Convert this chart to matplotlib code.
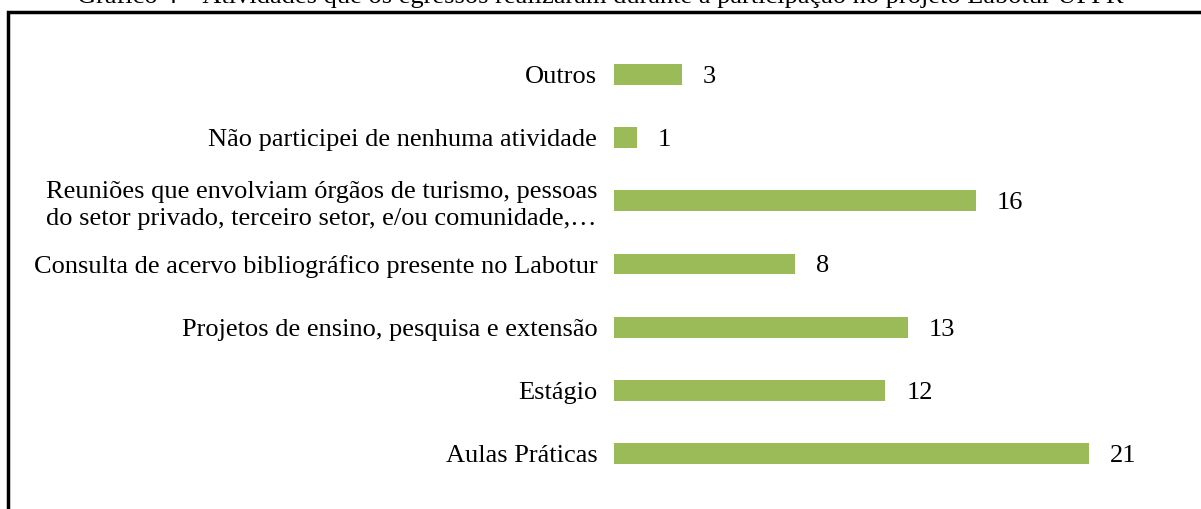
import matplotlib.pyplot as plt
import matplotlib.patches as patches

plt.rcParams['font.family'] = ['Liberation Serif', 'DejaVu Serif']

categorias = [
    "Aulas Práticas",
    "Estágio",
    "Projetos de ensino, pesquisa e extensão",
    "Consulta de acervo bibliográfico presente no Labotur",
    "Reuniões que envolviam órgãos de turismo, pessoas\ndo setor privado, terceiro setor, e/ou comunidade,…",
    "Não participei de nenhuma atividade",
    "Outros",
]
valores = [21, 12, 13, 8, 16, 1, 3]
titulo = "Gráfico 4 – Atividades que os egressos realizaram durante a participação no projeto Labotur UFPR"

verde = '#9BBB59'

fig = plt.figure(figsize=(12.01, 5.09), dpi=100)
ax = fig.add_axes([614 / 1201, 24 / 509, (1150 - 614) / 1201, 442 / 509])

pos = range(len(categorias))
ax.barh(pos, valores, height=0.33, color=verde)
for y, v in zip(pos, valores):
    ax.annotate(str(v), (v, y), xytext=(15, 0), textcoords='offset points',
                ha='left', va='center_baseline', fontsize=19)

ax.set_yticks(list(pos))
ax.set_yticklabels(categorias, fontsize=19, multialignment='center',
                   linespacing=1.3, va='center_baseline')
ax.tick_params(axis='y', length=0, pad=12)
ax.set_xticks([])
ax.set_xlim(0, 536 / 22.62)
ax.set_ylim(-0.5, 6.5)
for s in ax.spines.values():
    s.set_visible(False)

# moldura do grafico (cortada na borda da imagem)
moldura = patches.Rectangle((7.5 / 1201, -0.1), 1.2, 1 - 12 / 509 + 0.1,
                            transform=fig.transFigure, fill=False,
                            edgecolor='black', linewidth=2.5, clip_on=False)
fig.add_artist(moldura)

# titulo cortado no topo
fig.text(0.5, 1 - 3.5 / 509, titulo, ha='center', va='baseline', fontsize=19)

fig.savefig('out.png', dpi=100)
